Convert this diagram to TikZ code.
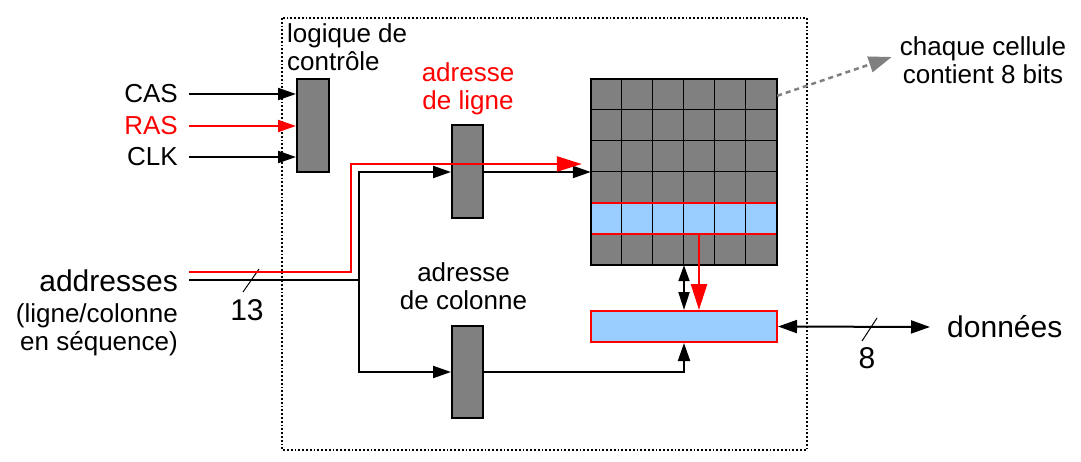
\documentclass[tikz,border=0pt]{standalone}
\usepackage{fontspec}
\setmainfont{Liberation Sans}
\usetikzlibrary{arrows.meta}
\definecolor{cellgray}{HTML}{808080}
\definecolor{cellblue}{HTML}{99CCFF}
\tikzset{
  txt/.style={font=\fontsize{26}{28}\selectfont, inner sep=0pt},
  bigtxt/.style={font=\fontsize{30}{32}\selectfont, inner sep=0pt},
  blk/.style={draw, fill=cellgray, line width=2pt, minimum width=31pt, minimum height=93pt, inner sep=0pt},
  reg/.style={draw=red, fill=cellblue, line width=2pt, minimum width=186pt, minimum height=31pt, inner sep=0pt},
  wire/.style={line width=2pt},
  arr/.style={wire, -{Triangle[length=18pt,width=12pt]}},
  redarr/.style={line width=2.5pt, red, -{Triangle[length=25pt,width=15pt]}},
}
\begin{document}
\begin{tikzpicture}[x=1pt,y=-1pt]
\useasboundingbox (0,0) rectangle (1081,462);
\draw[dotted, line width=1.8pt] (282,18) rectangle (807,450);

% control logic
\node[txt, anchor=north west, align=left] (logic) at (287,23) {logique de\\contrôle};
\node[blk, minimum width=32pt] (ctrl) at (313,125.5) {};
\node[txt, anchor=east] (cas) at (178,94) {CAS};
\node[txt, anchor=east, text=red] (ras) at (178,126) {RAS};
\node[txt, anchor=east] (clk) at (178,157) {CLK};
\foreach \s in {cas,clk} \draw[arr] ([xshift=11pt]\s.east) -- (ctrl.west |- \s.east);
\draw[arr, red] ([xshift=11pt]ras.east) -- (ctrl.west |- ras.east);

% decoders
\node[txt, text=red, align=center] (rowlbl) at (468,89) {adresse\\de ligne};
\node[blk] (rowdec) at (467.5,172) {};
\node[txt, align=center] (collbl) at (463.5,286) {adresse\\de colonne};
\node[blk, minimum height=92pt] (coldec) at (467.5,372) {};

% memory array
\node[fill=cellgray, minimum width=186pt, minimum height=186pt, inner sep=0pt] (mem) at (684,172) {};
\node[fill=cellblue, minimum width=186pt, minimum height=31pt, inner sep=0pt] (hl) at (684,218.5) {};
\foreach \i in {1,...,5} {
  \draw[line width=1.2pt] ([xshift={31*\i}]mem.north west) -- ([xshift={31*\i}]mem.south west);
  \draw[line width=1.2pt] ([yshift={-31*\i}]mem.north west) -- ([yshift={-31*\i}]mem.north east);
}
\draw[red, line width=2pt] (hl.north west) rectangle (hl.south east);
\draw[line width=2pt] (mem.north west) rectangle (mem.south east);
\node[reg] (buf) at (684,326.5) {};

% address bus
\node[bigtxt, anchor=east] (addr) at (178,281) {addresses};
\node[txt, anchor=east, align=right] (seq) at (178,330) {(ligne/colonne\\en séquence)};
\coordinate (rin) at (189,272);
\coordinate (cin) at (189,280);
\coordinate (split) at (359,280);
\draw[wire] (cin) -- (split);
\draw[arr] (split) |- (rowdec.west);
\draw[arr] (split) |- (coldec.west);
\draw[arr] (rowdec.east) -- (mem.west);
\draw[arr] (coldec.east) -| (buf.south);
\draw[line width=1pt] (243,292) -- (259,269);
\node[bigtxt] (w13) at (247,310) {13};
\coordinate (rowtip) at ([xshift=-9pt,yshift=8pt]mem.west);
\draw[redarr] (rin) -| (351,164) -- (rowtip);

% array <-> buffer
\draw[wire, {Triangle[length=16pt,width=11pt]}-{Triangle[length=18pt,width=11pt]}] (mem.south) -- (buf.north);
\draw[line width=2.5pt, red, -{Triangle[length=26pt,width=16pt]}] ([xshift=15pt]hl.south) -- ([xshift=15pt]buf.north);

% data bus
\node[bigtxt, anchor=west] (data) at (947,327) {données};
\draw[wire, {Triangle[length=19pt,width=13pt]}-{Triangle[length=19pt,width=13pt]}] (buf.east) -- ([xshift=-17pt]data.west);
\draw[line width=1pt] (862,341) -- (877,318);
\node[bigtxt] (w8) at (867,358) {8};

% note
\node[txt, align=center] (note) at (983,60) {chaque cellule\\contient 8 bits};
\draw[cellgray, line width=2.5pt, dash pattern=on 5pt off 4pt, -{Triangle[length=23pt,width=16pt]}]
  ([yshift=-17pt]mem.north east) -- ([xshift=-8pt,yshift=3pt]note.west);
\end{tikzpicture}
\end{document}
